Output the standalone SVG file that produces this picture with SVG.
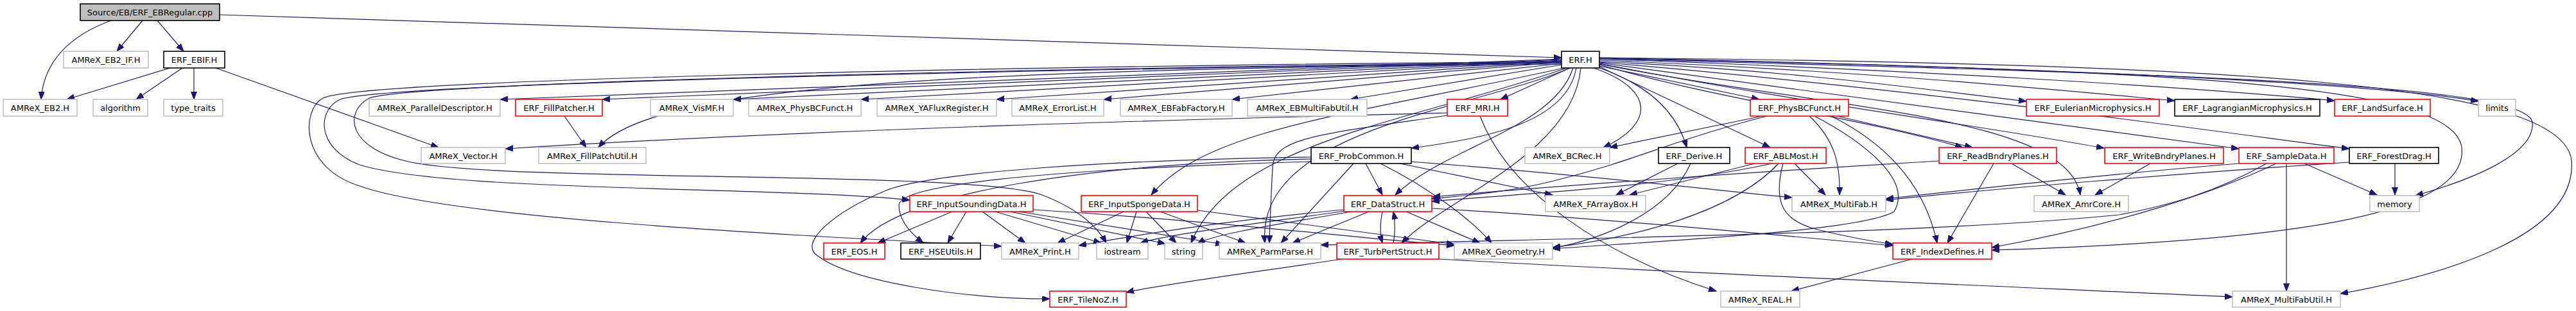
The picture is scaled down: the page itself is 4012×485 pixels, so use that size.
<svg xmlns="http://www.w3.org/2000/svg" width="4012" height="485" viewBox="0 0 4012 485">
<style>
.e{fill:none;stroke:#191970;stroke-width:1.2}
.n rect{fill:#fff;stroke-width:1.6}
.g rect{stroke:#bfbfbf}
.r rect{stroke:#ff0000}
.b rect{stroke:#000}
.root rect{fill:#bfbfbf;stroke:#000}
text{font-family:"DejaVu Sans","Liberation Sans",sans-serif;font-size:13px;text-anchor:middle;fill:#000}
</style>
<defs>
<marker id="a" markerWidth="13" markerHeight="10" refX="12" refY="4.5" orient="auto" markerUnits="userSpaceOnUse">
<path d="M0,0 L12,4.5 L0,9 z" fill="#191970" stroke="#191970" stroke-width="1"/>
</marker>
</defs>
<rect width="4012" height="485" fill="#fff"/>
<g id="edges" marker-end="url(#a)">
<path class="e" marker-end="url(#a)" d="M173,32 C110,55 68,95 64,155"/>
<path class="e" marker-end="url(#a)" d="M222,32 L182,80"/>
<path class="e" marker-end="url(#a)" d="M245,32 L286,80"/>
<path class="e" marker-end="url(#a)" d="M342,23 L2432,90"/>
<path class="e" marker-end="url(#a)" d="M265,106 L104,155"/>
<path class="e" marker-end="url(#a)" d="M284,106 L212,155"/>
<path class="e" marker-end="url(#a)" d="M302,106 L302,155"/>
<path class="e" marker-end="url(#a)" d="M336,106 L683,230"/>
<path class="e" marker-end="url(#a)" d="M2432,92 L779,155"/>
<path class="e" marker-end="url(#a)" d="M2432,93 L938,155"/>
<path class="e" marker-end="url(#a)" d="M2432,94 L1142,155"/>
<path class="e" marker-end="url(#a)" d="M2432,95 L1341,155"/>
<path class="e" marker-end="url(#a)" d="M2432,96 L1552,155"/>
<path class="e" marker-end="url(#a)" d="M2432,97 L1719,155"/>
<path class="e" marker-end="url(#a)" d="M2432,99 L1919,155"/>
<path class="e" marker-end="url(#a)" d="M2432,101 L2103,155"/>
<path class="e" marker-end="url(#a)" d="M2445,106 L2337,155"/>
<path class="e" marker-end="url(#a)" d="M2491,103 L2740,155"/>
<path class="e" marker-end="url(#a)" d="M2491,96 C2800,110 3000,140 3156,158"/>
<path class="e" marker-end="url(#a)" d="M2491,94 C2900,110 3200,140 3387,157"/>
<path class="e" marker-end="url(#a)" d="M2491,92 C3000,110 3400,135 3636,157"/>
<path class="e" marker-end="url(#a)" d="M2491,90 C3200,105 3700,130 3860,158"/>
<path class="e" marker-end="url(#a)" d="M2254,176 C1900,185 1300,200 787,232"/>
<path class="e" marker-end="url(#a)" d="M2432,100 C1400,108 1010,140 932,230"/>
<path class="e" marker-end="url(#a)" d="M879,181 L913,230"/>
<path class="e" marker-end="url(#a)" d="M2455,106 C2440,190 2320,215 2198,231"/>
<path class="e" marker-end="url(#a)" d="M2482,106 C2580,140 2575,195 2497,230"/>
<path class="e" marker-end="url(#a)" d="M2491,106 C2560,130 2610,170 2627,230"/>
<path class="e" marker-end="url(#a)" d="M2491,104 L2757,230"/>
<path class="e" marker-end="url(#a)" d="M2491,101 C2700,160 2880,180 3057,230"/>
<path class="e" marker-end="url(#a)" d="M2861,181 L3072,230"/>
<path class="e" marker-end="url(#a)" d="M2491,99 C2800,160 3050,190 3277,231"/>
<path class="e" marker-end="url(#a)" d="M2491,98 C2900,150 3250,200 3487,232"/>
<path class="e" marker-end="url(#a)" d="M2491,97 C3000,140 3450,205 3659,232"/>
<path class="e" marker-end="url(#a)" d="M2491,100 C2850,170 3220,180 3240,304"/>
<path class="e" marker-end="url(#a)" d="M2491,92 C3400,115 3930,130 3944,190 C3950,240 3850,280 3762,305"/>
<path class="e" marker-end="url(#a)" d="M2491,91 C3400,110 3820,130 3834,230 C3845,330 3600,375 3102,390"/>
<path class="e" marker-end="url(#a)" d="M2491,90 C3500,100 3990,130 4005,250 C4015,370 3800,430 3645,458"/>
<path class="e" marker-end="url(#a)" d="M2432,98 C1600,108 600,130 530,155 C495,170 490,230 560,257 C700,300 1200,290 1417,312"/>
<path class="e" marker-end="url(#a)" d="M2432,97 C1500,108 640,130 575,153 C535,175 540,232 640,253 C800,285 1500,265 1620,303 C1680,325 1710,355 1723,379"/>
<path class="e" marker-end="url(#a)" d="M2432,96 C1500,104 560,125 503,153 C470,170 465,260 560,290 C700,340 1200,365 1560,384"/>
<path class="e" marker-end="url(#a)" d="M2042,245 C1700,250 1450,270 1380,297 C1300,330 1240,380 1275,400 C1330,440 1500,466 1635,466"/>
<path class="e" marker-end="url(#a)" d="M2042,248 C1700,255 1400,300 1340,379"/>
<path class="e" marker-end="url(#a)" d="M2042,252 C1600,265 1400,290 1400,320 C1400,345 1420,365 1438,379"/>
<path class="e" marker-end="url(#a)" d="M2436,106 C2100,180 1880,200 1793,304"/>
<path class="e" marker-end="url(#a)" d="M2440,106 C2200,190 1920,220 1855,379"/>
<path class="e" marker-end="url(#a)" d="M2445,106 C2300,170 1955,200 1970,379"/>
<path class="e" marker-end="url(#a)" d="M2254,180 C2050,210 1985,215 1982,260 C1980,300 1978,340 1977,379"/>
<path class="e" marker-end="url(#a)" d="M2450,106 C2420,200 2250,230 2173,304"/>
<path class="e" marker-end="url(#a)" d="M2462,106 C2450,240 2250,310 2183,379"/>
<path class="e" marker-end="url(#a)" d="M2108,255 L1995,379"/>
<path class="e" marker-end="url(#a)" d="M2127,255 L2153,304"/>
<path class="e" marker-end="url(#a)" d="M2150,255 C2220,290 2290,340 2323,379"/>
<path class="e" marker-end="url(#a)" d="M2180,255 L2418,304"/>
<path class="e" marker-end="url(#a)" d="M2197,252 C2500,275 2700,300 2791,308"/>
<path class="e" marker-end="url(#a)" d="M2132,330 L2013,379"/>
<path class="e" marker-end="url(#a)" d="M2153,330 C2149,350 2149,365 2153,379"/>
<path class="e" marker-end="url(#a)" d="M2170,379 C2173,365 2173,345 2170,330"/>
<path class="e" marker-end="url(#a)" d="M2190,330 L2305,379"/>
<path class="e" marker-end="url(#a)" d="M2230,325 C2500,340 2800,370 2948,383"/>
<path class="e" marker-end="url(#a)" d="M2093,327 C1900,345 1750,370 1680,383"/>
<path class="e" marker-end="url(#a)" d="M2095,329 C1950,350 1820,365 1776,379"/>
<path class="e" marker-end="url(#a)" d="M2105,330 C1990,350 1890,365 1865,380"/>
<path class="e" marker-end="url(#a)" d="M1483,330 L1367,379"/>
<path class="e" marker-end="url(#a)" d="M1505,330 L1476,379"/>
<path class="e" marker-end="url(#a)" d="M1530,330 L1597,379"/>
<path class="e" marker-end="url(#a)" d="M1550,330 L1715,379"/>
<path class="e" marker-end="url(#a)" d="M1573,330 L1815,380"/>
<path class="e" marker-end="url(#a)" d="M1587,330 L1905,381"/>
<path class="e" marker-end="url(#a)" d="M1609,327 C1900,345 2100,370 2265,383"/>
<path class="e" marker-end="url(#a)" d="M1750,330 L1647,379"/>
<path class="e" marker-end="url(#a)" d="M1770,330 L1755,379"/>
<path class="e" marker-end="url(#a)" d="M1785,330 L1832,379"/>
<path class="e" marker-end="url(#a)" d="M1807,330 L1940,379"/>
<path class="e" marker-end="url(#a)" d="M1865,328 C2000,345 2150,367 2265,381"/>
<path class="e" marker-end="url(#a)" d="M2090,404 C1950,425 1800,445 1754,456"/>
<path class="e" marker-end="url(#a)" d="M2241,404 C2700,430 3200,450 3477,463"/>
<path class="e" marker-end="url(#a)" d="M2305,181 C2350,300 2500,400 2673,454"/>
<path class="e" marker-end="url(#a)" d="M2745,181 L2507,230"/>
<path class="e" marker-end="url(#a)" d="M2752,181 C2600,220 2550,250 2420,282 C2350,300 2280,305 2230,310"/>
<path class="e" marker-end="url(#a)" d="M2818,181 C2860,220 2866,260 2865,304"/>
<path class="e" marker-end="url(#a)" d="M2826,181 C2900,220 2980,280 2950,330 C2900,360 2600,375 2418,388"/>
<path class="e" marker-end="url(#a)" d="M2852,181 C2950,230 3000,300 3017,379"/>
<path class="e" marker-end="url(#a)" d="M2733,255 L2538,304"/>
<path class="e" marker-end="url(#a)" d="M2760,255 C2600,290 2400,300 2230,314"/>
<path class="e" marker-end="url(#a)" d="M2770,255 C2700,330 2550,370 2418,386"/>
<path class="e" marker-end="url(#a)" d="M2777,255 C2760,320 2780,345 2830,358 C2880,370 2920,377 2948,381"/>
<path class="e" marker-end="url(#a)" d="M2795,255 L2843,304"/>
<path class="e" marker-end="url(#a)" d="M2613,255 L2517,304"/>
<path class="e" marker-end="url(#a)" d="M2633,255 C2600,330 2500,372 2418,387"/>
<path class="e" marker-end="url(#a)" d="M3105,255 L3033,379"/>
<path class="e" marker-end="url(#a)" d="M3133,255 L3217,304"/>
<path class="e" marker-end="url(#a)" d="M3020,251 C2700,270 2400,292 2231,307"/>
<path class="e" marker-end="url(#a)" d="M3349,255 L3263,304"/>
<path class="e" marker-end="url(#a)" d="M3487,255 C3300,270 3100,292 2937,310"/>
<path class="e" marker-end="url(#a)" d="M3561,255 L3561,454"/>
<path class="e" marker-end="url(#a)" d="M3589,255 L3702,304"/>
<path class="e" marker-end="url(#a)" d="M3545,255 C3450,300 3300,350 3102,386"/>
<path class="e" marker-end="url(#a)" d="M3530,255 C3450,300 3380,320 3300,335 C3000,365 2500,370 2057,382"/>
<path class="e" marker-end="url(#a)" d="M3659,253 C3400,270 3100,295 2937,312"/>
<path class="e" marker-end="url(#a)" d="M3730,255 L3730,304"/>
<path class="e" marker-end="url(#a)" d="M2978,404 L2790,454"/>
</g>
<g id="n0" class="n root"><rect x="125" y="6" width="217" height="26"/><text x="233.5" y="24">Source/EB/ERF_EBRegular.cpp</text></g>
<g id="n1" class="n g"><rect x="99" y="80" width="132" height="26"/><text x="165" y="98">AMReX_EB2_IF.H</text></g>
<g id="n2" class="n b"><rect x="255" y="80" width="95" height="26"/><text x="302.5" y="98">ERF_EBIF.H</text></g>
<g id="n3" class="n b"><rect x="2432" y="80" width="59" height="26"/><text x="2461.5" y="98">ERF.H</text></g>
<g id="n4" class="n g"><rect x="5" y="155" width="115" height="26"/><text x="62.5" y="173">AMReX_EB2.H</text></g>
<g id="n5" class="n g"><rect x="145" y="155" width="85" height="26"/><text x="187.5" y="173">algorithm</text></g>
<g id="n6" class="n g"><rect x="255" y="155" width="92" height="26"/><text x="301" y="173">type_traits</text></g>
<g id="n7" class="n g"><rect x="575" y="155" width="204" height="26"/><text x="677" y="173">AMReX_ParallelDescriptor.H</text></g>
<g id="n8" class="n r"><rect x="803" y="155" width="135" height="26"/><text x="870.5" y="173">ERF_FillPatcher.H</text></g>
<g id="n9" class="n g"><rect x="1013" y="155" width="129" height="26"/><text x="1077.5" y="173">AMReX_VisMF.H</text></g>
<g id="n10" class="n g"><rect x="1166" y="155" width="175" height="26"/><text x="1253.5" y="173">AMReX_PhysBCFunct.H</text></g>
<g id="n11" class="n g"><rect x="1366" y="155" width="186" height="26"/><text x="1459" y="173">AMReX_YAFluxRegister.H</text></g>
<g id="n12" class="n g"><rect x="1576" y="155" width="143" height="26"/><text x="1647.5" y="173">AMReX_ErrorList.H</text></g>
<g id="n13" class="n g"><rect x="1745" y="155" width="174" height="26"/><text x="1832" y="173">AMReX_EBFabFactory.H</text></g>
<g id="n14" class="n g"><rect x="1943" y="155" width="186" height="26"/><text x="2036" y="173">AMReX_EBMultiFabUtil.H</text></g>
<g id="n15" class="n r"><rect x="2254" y="155" width="94" height="26"/><text x="2301" y="173">ERF_MRI.H</text></g>
<g id="n16" class="n r"><rect x="2726" y="155" width="153" height="26"/><text x="2802.5" y="173">ERF_PhysBCFunct.H</text></g>
<g id="n17" class="n r"><rect x="3156" y="155" width="207" height="26"/><text x="3259.5" y="173">ERF_EulerianMicrophysics.H</text></g>
<g id="n18" class="n b"><rect x="3387" y="155" width="226" height="26"/><text x="3500" y="173">ERF_LagrangianMicrophysics.H</text></g>
<g id="n19" class="n r"><rect x="3636" y="155" width="149" height="26"/><text x="3710.5" y="173">ERF_LandSurface.H</text></g>
<g id="n20" class="n g"><rect x="3860" y="155" width="58" height="26"/><text x="3889" y="173">limits</text></g>
<g id="n21" class="n g"><rect x="656" y="230" width="131" height="25"/><text x="721.5" y="247.5">AMReX_Vector.H</text></g>
<g id="n22" class="n g"><rect x="839" y="230" width="167" height="25"/><text x="922.5" y="247.5">AMReX_FillPatchUtil.H</text></g>
<g id="n23" class="n b"><rect x="2042" y="230" width="156" height="25"/><text x="2120" y="247.5">ERF_ProbCommon.H</text></g>
<g id="n24" class="n g"><rect x="2375" y="230" width="132" height="25"/><text x="2441" y="247.5">AMReX_BCRec.H</text></g>
<g id="n25" class="n b"><rect x="2583" y="230" width="111" height="25"/><text x="2638.5" y="247.5">ERF_Derive.H</text></g>
<g id="n26" class="n r"><rect x="2718" y="230" width="126" height="25"/><text x="2781" y="247.5">ERF_ABLMost.H</text></g>
<g id="n27" class="n r"><rect x="3020" y="230" width="183" height="25"/><text x="3111.5" y="247.5">ERF_ReadBndryPlanes.H</text></g>
<g id="n28" class="n r"><rect x="3278" y="230" width="185" height="25"/><text x="3370.5" y="247.5">ERF_WriteBndryPlanes.H</text></g>
<g id="n29" class="n r"><rect x="3487" y="230" width="148" height="25"/><text x="3561" y="247.5">ERF_SampleData.H</text></g>
<g id="n30" class="n b"><rect x="3659" y="230" width="139" height="25"/><text x="3728.5" y="247.5">ERF_ForestDrag.H</text></g>
<g id="n31" class="n r"><rect x="1417" y="305" width="192" height="25"/><text x="1513" y="322.5">ERF_InputSoundingData.H</text></g>
<g id="n32" class="n r"><rect x="1684" y="305" width="181" height="25"/><text x="1774.5" y="322.5">ERF_InputSpongeData.H</text></g>
<g id="n33" class="n r"><rect x="2093" y="305" width="137" height="25"/><text x="2161.5" y="322.5">ERF_DataStruct.H</text></g>
<g id="n34" class="n g"><rect x="2407" y="305" width="156" height="25"/><text x="2485" y="322.5">AMReX_FArrayBox.H</text></g>
<g id="n35" class="n g"><rect x="2791" y="305" width="146" height="25"/><text x="2864" y="322.5">AMReX_MultiFab.H</text></g>
<g id="n36" class="n g"><rect x="3168" y="305" width="147" height="25"/><text x="3241.5" y="322.5">AMReX_AmrCore.H</text></g>
<g id="n37" class="n g"><rect x="3691" y="305" width="77" height="25"/><text x="3729.5" y="322.5">memory</text></g>
<g id="n38" class="n r"><rect x="1283" y="379" width="95" height="25"/><text x="1330.5" y="396.5">ERF_EOS.H</text></g>
<g id="n39" class="n b"><rect x="1403" y="379" width="124" height="25"/><text x="1465" y="396.5">ERF_HSEUtils.H</text></g>
<g id="n40" class="n g"><rect x="1560" y="379" width="120" height="25"/><text x="1620" y="396.5">AMReX_Print.H</text></g>
<g id="n41" class="n g"><rect x="1708" y="379" width="80" height="25"/><text x="1748" y="396.5">iostream</text></g>
<g id="n42" class="n g"><rect x="1814" y="379" width="59" height="25"/><text x="1843.5" y="396.5">string</text></g>
<g id="n43" class="n g"><rect x="1899" y="379" width="158" height="25"/><text x="1978" y="396.5">AMReX_ParmParse.H</text></g>
<g id="n44" class="n r"><rect x="2082" y="379" width="159" height="25"/><text x="2161.5" y="396.5">ERF_TurbPertStruct.H</text></g>
<g id="n45" class="n g"><rect x="2265" y="379" width="153" height="25"/><text x="2341.5" y="396.5">AMReX_Geometry.H</text></g>
<g id="n46" class="n r"><rect x="2948" y="379" width="154" height="25"/><text x="3025" y="396.5">ERF_IndexDefines.H</text></g>
<g id="n47" class="n r"><rect x="1635" y="454" width="119" height="25"/><text x="1694.5" y="471.5">ERF_TileNoZ.H</text></g>
<g id="n48" class="n g"><rect x="2680" y="454" width="123" height="25"/><text x="2741.5" y="471.5">AMReX_REAL.H</text></g>
<g id="n49" class="n g"><rect x="3477" y="454" width="168" height="25"/><text x="3561" y="471.5">AMReX_MultiFabUtil.H</text></g>
</svg>
